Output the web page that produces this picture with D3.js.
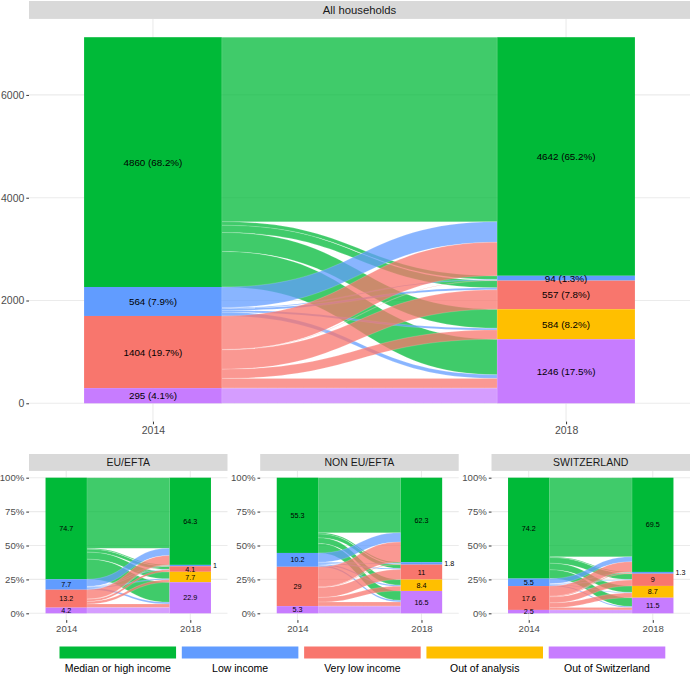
<!DOCTYPE html>
<html>
<head>
<meta charset="utf-8">
<script src="https://cdn.jsdelivr.net/npm/d3@7"></script>
<style>
  body { margin: 0; background: #fff; }
  svg { display: block; font-family: "Liberation Sans", Arial, sans-serif; }
</style>
</head>
<body>
<svg id="chart" width="690" height="675"></svg>
<script>
// ---------------- DATA ----------------
const categories = ["Median or high income", "Low income", "Very low income", "Out of analysis", "Out of Switzerland"];
const colors = ["#00BA38", "#619CFF", "#F8766D", "#FFBF00", "#C77CFF"];
const years = ["2014", "2018"];
const panelTitles = ["All households", "EU/EFTA", "NON EU/EFTA", "SWITZERLAND"];

// flows: rows = 2014 category, columns = 2018 category
const flowsAll = [
  [3590, 70, 140, 370, 690],
  [400, 17, 40, 35, 72],
  [652, 7, 377, 179, 189],
  [0, 0, 0, 0, 0],
  [0, 0, 0, 0, 295]
];
const flowsEU = [
  [52.1, 0.6, 2.2, 5.2, 14.8],
  [5.3, 0.2, 0.3, 0.7, 1.2],
  [6.9, 0.2, 1.6, 1.8, 2.7],
  [0, 0, 0, 0, 0],
  [0, 0, 0, 0, 4.2]
];
const flowsNonEU = [
  [40.6, 0.9, 2.8, 4.2, 7.0],
  [6.9, 0.5, 0.8, 0.8, 1.2],
  [14.8, 0.4, 7.4, 3.4, 3.0],
  [0, 0, 0, 0, 0],
  [0, 0, 0, 0, 5.3]
];
const flowsCH = [
  [58.3, 0.6, 4.2, 4.8, 6.5],
  [3.7, 0.2, 0.4, 0.4, 0.8],
  [7.5, 0.5, 4.4, 3.5, 1.7],
  [0, 0, 0, 0, 0],
  [0, 0, 0, 0, 2.5]
];

const labelsAll2014 = ["4860 (68.2%)", "564 (7.9%)", "1404 (19.7%)", "", "295 (4.1%)"];
const labelsAll2018 = ["4642 (65.2%)", "94 (1.3%)", "557 (7.8%)", "584 (8.2%)", "1246 (17.5%)"];
const labelsEU2014 = ["74.7", "7.7", "13.2", "", "4.2"];
const labelsEU2018 = ["64.3", "1", "4.1", "7.7", "22.9"];
const labelsNonEU2014 = ["55.3", "10.2", "29", "", "5.3"];
const labelsNonEU2018 = ["62.3", "1.8", "11", "8.4", "16.5"];
const labelsCH2014 = ["74.2", "5.5", "17.6", "", "2.5"];
const labelsCH2018 = ["69.5", "1.3", "9", "8.7", "11.5"];

const ticksAll = [0, 2000, 4000, 6000];
const ticksPct = [0, 25, 50, 75, 100];

// ---------------- DRAW ----------------
const svg = d3.select("#chart");

function drawPanel(cfg) {
  const g = svg.append("g");
  const flows = cfg.flows;
  const n = categories.length;
  const leftTot = flows.map(r => d3.sum(r));
  const rightTot = categories.map((c, j) => d3.sum(flows, r => r[j]));
  const total = d3.sum(leftTot);

  const x = d3.scalePoint().domain(years).range([cfg.x0, cfg.x1]).padding(0.3);
  const step = x.step();
  const bw = step / 3;
  const y = d3.scaleLinear().domain([-0.05 * total, 1.05 * total]).range([cfg.yBottom, cfg.yTop]);

  // strip
  g.append("rect").attr("x", cfg.x0).attr("y", cfg.stripTop)
    .attr("width", cfg.x1 - cfg.x0).attr("height", cfg.yTop - cfg.stripTop)
    .attr("fill", "#D9D9D9");
  g.append("text").attr("x", (cfg.x0 + cfg.x1) / 2).attr("y", (cfg.stripTop + cfg.yTop) / 2)
    .attr("dy", "0.36em").attr("text-anchor", "middle")
    .attr("font-size", cfg.stripSize).attr("fill", "#1A1A1A").text(cfg.title);

  // grid
  g.selectAll(".hg").data(cfg.ticks).join("line")
    .attr("x1", cfg.x0).attr("x2", cfg.x1)
    .attr("y1", d => y(d)).attr("y2", d => y(d))
    .attr("stroke", "#EBEBEB").attr("stroke-width", 1.1);
  g.selectAll(".vg").data(years).join("line")
    .attr("x1", d => x(d)).attr("x2", d => x(d))
    .attr("y1", cfg.yTop).attr("y2", cfg.yBottom)
    .attr("stroke", "#EBEBEB").attr("stroke-width", 1.1);

  // stacked positions (top category at top)
  function stackTops(tots) {
    const tops = [];
    let acc = total;
    for (let k = 0; k < n; k++) { tops.push(acc); acc -= tots[k]; }
    return tops;
  }
  const leftTop = stackTops(leftTot);
  const rightTop = stackTops(rightTot);

  // flows
  const leftCursor = leftTop.slice();
  const rightCursor = rightTop.slice();
  const flowList = [];
  const leftPos = {};
  for (let i = 0; i < n; i++) for (let j = 0; j < n; j++) {
    const v = flows[i][j];
    if (v <= 0) continue;
    leftPos[i + "_" + j] = [leftCursor[i], leftCursor[i] - v];
    leftCursor[i] -= v;
  }
  const rightPos = {};
  for (let j = 0; j < n; j++) for (let i = 0; i < n; i++) {
    const v = flows[i][j];
    if (v <= 0) continue;
    rightPos[i + "_" + j] = [rightCursor[j], rightCursor[j] - v];
    rightCursor[j] -= v;
  }
  for (let i = 0; i < n; i++) for (let j = 0; j < n; j++) {
    if (flows[i][j] <= 0) continue;
    flowList.push({ i, j, l: leftPos[i + "_" + j], r: rightPos[i + "_" + j] });
  }
  const xa = x(years[0]) + bw / 2, xb = x(years[1]) - bw / 2, xm = (xa + xb) / 2;
  function flowPath(f) {
    const a0 = y(f.l[0]), a1 = y(f.l[1]), b0 = y(f.r[0]), b1 = y(f.r[1]);
    return `M${xa},${a0}C${xm},${a0} ${xm},${b0} ${xb},${b0}L${xb},${b1}C${xm},${b1} ${xm},${a1} ${xa},${a1}Z`;
  }
  g.selectAll(".flow").data(flowList).join("path")
    .attr("d", flowPath)
    .attr("fill", d => colors[d.i]).attr("fill-opacity", 0.75)
    .attr("stroke", "#fff").attr("stroke-width", 0.3).attr("stroke-opacity", 0.5);

  // strata
  const strata = [];
  for (let k = 0; k < n; k++) {
    if (leftTot[k] > 0) strata.push({ yr: years[0], k, top: leftTop[k], v: leftTot[k], label: cfg.labels2014[k] });
    if (rightTot[k] > 0) strata.push({ yr: years[1], k, top: rightTop[k], v: rightTot[k], label: cfg.labels2018[k] });
  }
  g.selectAll(".stratum").data(strata).join("rect")
    .attr("x", d => x(d.yr) - bw / 2).attr("width", bw)
    .attr("y", d => y(d.top)).attr("height", d => y(d.top - d.v) - y(d.top))
    .attr("fill", d => colors[d.k]);

  const small = d => (y(d.top - d.v) - y(d.top)) < 3;
  g.selectAll(".slabel").data(strata).join("text")
    .attr("x", d => small(d) ? x(d.yr) + bw / 2 + 2 : x(d.yr))
    .attr("y", d => y(d.top - d.v / 2)).attr("dy", "0.36em")
    .attr("text-anchor", d => small(d) ? "start" : "middle")
    .attr("font-size", cfg.labelSize).attr("fill", "#000")
    .text(d => d.label);

  // axes
  const ya = g.append("g").attr("transform", `translate(${cfg.x0},0)`)
    .call(d3.axisLeft(y).tickValues(cfg.ticks).tickFormat(cfg.fmt).tickSize(2.7).tickPadding(2));
  ya.select(".domain").remove();
  ya.selectAll("line").attr("stroke", "#333");
  ya.selectAll("text").attr("fill", "#4D4D4D").attr("font-size", cfg.axisSize)
    .attr("font-family", "Liberation Sans, Arial, sans-serif");

  const xaG = g.append("g").attr("transform", `translate(0,${cfg.yBottom})`)
    .call(d3.axisBottom(x).tickSize(2.7).tickPadding(2.5));
  xaG.select(".domain").remove();
  xaG.selectAll("line").attr("stroke", "#333");
  xaG.selectAll("text").attr("fill", "#4D4D4D").attr("font-size", cfg.axisSize)
    .attr("font-family", "Liberation Sans, Arial, sans-serif");
}

drawPanel({
  title: panelTitles[0], flows: flowsAll, labels2014: labelsAll2014, labels2018: labelsAll2018,
  x0: 29, x1: 690, stripTop: 1, yTop: 18.9, yBottom: 421.6,
  ticks: ticksAll, fmt: d3.format("d"), labelSize: 9.8, axisSize: 10.5, stripSize: 11.3
});
const smallPanels = [
  { title: panelTitles[1], flows: flowsEU, labels2014: labelsEU2014, labels2018: labelsEU2018, x0: 29 },
  { title: panelTitles[2], flows: flowsNonEU, labels2014: labelsNonEU2014, labels2018: labelsNonEU2018, x0: 260.2 },
  { title: panelTitles[3], flows: flowsCH, labels2014: labelsCH2014, labels2018: labelsCH2018, x0: 491.5 }
];
smallPanels.forEach(p => drawPanel(Object.assign({
  x1: p.x0 + 198.5, stripTop: 454, yTop: 470.9, yBottom: 620.1,
  ticks: ticksPct, fmt: d => d + "%", labelSize: 7.2, axisSize: 9.6, stripSize: 10.5
}, p)));

// legend
const lx = d3.scaleBand().domain(categories).range([59.5, 665.3]).paddingInner(0.047);
const lg = svg.append("g");
lg.selectAll("rect").data(categories).join("rect")
  .attr("x", d => lx(d)).attr("y", 646.5).attr("width", lx.bandwidth()).attr("height", 12)
  .attr("fill", (d, i) => colors[i]);
lg.selectAll("text").data(categories).join("text")
  .attr("x", d => lx(d) + lx.bandwidth() / 2).attr("y", 668).attr("dy", "0.36em")
  .attr("text-anchor", "middle").attr("font-size", 10.5).attr("fill", "#000")
  .text(d => d);
</script>
</body>
</html>
